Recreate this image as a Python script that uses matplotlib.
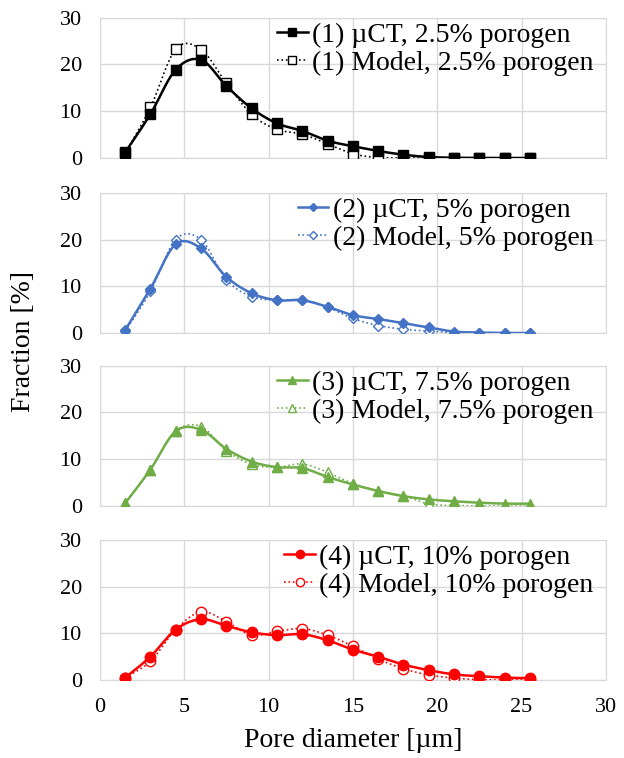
import numpy as np
import matplotlib
matplotlib.use("Agg")
import matplotlib.pyplot as plt

plt.rcParams['font.family'] = ['Liberation Serif', 'DejaVu Serif']

# pore diameter bins [um]
diameter = [1.5, 3, 4.5, 6, 7.5, 9, 10.5, 12, 13.5, 15, 16.5, 18, 19.5, 21, 22.5, 24, 25.5]

# fraction [%] per bin, measured (uCT) and simulated (model)
ct_25 = [1.2, 9.4, 18.9, 21.0, 15.4, 10.6, 7.4, 5.8, 3.7, 2.5, 1.5, 0.7, 0.2, 0.05, 0, 0, 0]
model_25 = [1.0, 10.8, 23.3, 23.2, 16.0, 9.3, 6.1, 5.1, 3.0, 0.9, 0.1, 0, 0, 0, 0, 0, 0]
ct_5 = [0.6, 9.5, 19.0, 18.1, 12.0, 8.5, 7.0, 7.0, 5.6, 3.8, 3.0, 2.1, 1.2, 0.3, 0.1, 0, 0]
model_5 = [0.4, 8.9, 20.0, 20.0, 11.4, 7.8, 7.0, 7.1, 5.5, 3.1, 1.6, 0.8, 0.4, 0.1, 0, 0, 0]
ct_75 = [0.6, 7.8, 16.0, 16.3, 12.2, 9.5, 8.3, 8.1, 6.2, 4.6, 3.2, 2.1, 1.4, 1.0, 0.7, 0.5, 0.5]
model_75 = [0.6, 7.8, 16.0, 17.0, 11.8, 8.9, 8.3, 9.0, 7.2, 4.8, 3.2, 2.2, 0.4, 0.1, 0, 0, 0]
ct_10 = [0.5, 5.0, 10.8, 13.0, 11.6, 10.2, 9.6, 9.8, 8.5, 6.5, 5.0, 3.3, 2.1, 1.2, 0.8, 0.5, 0.4]
model_10 = [0.5, 4.0, 10.8, 14.6, 12.5, 9.6, 10.4, 11.0, 9.6, 7.2, 4.5, 2.4, 1.1, 0.4, 0.1, 0, 0.1]

labels = [("(1) µCT, 2.5% porogen", "(1) Model, 2.5% porogen"),
          ("(2) µCT, 5% porogen", "(2) Model, 5% porogen"),
          ("(3) µCT, 7.5% porogen", "(3) Model, 7.5% porogen"),
          ("(4) µCT, 10% porogen", "(4) Model, 10% porogen")]
colors = ['#000000', '#4472C4', '#70AD47', '#FF0000']
markers = ['s', 'D', '^', 'o']
msizes = [7, 5.5, 7, 7.5]
series = [(ct_25, model_25), (ct_5, model_5), (ct_75, model_75), (ct_10, model_10)]


def smooth(x, y, n=20):
    # spreadsheet-style smoothed line: cubic Bezier through every point
    x = np.asarray(x, float)
    y = np.asarray(y, float)
    px = np.concatenate([[x[0]], x, [x[-1]]])
    py = np.concatenate([[y[0]], y, [y[-1]]])
    xs, ys = [], []
    t = np.linspace(0, 1, n)
    for i in range(1, len(px) - 2):
        p0 = np.array([px[i], py[i]])
        p3 = np.array([px[i + 1], py[i + 1]])
        p1 = p0 + (np.array([px[i + 1], py[i + 1]]) - np.array([px[i - 1], py[i - 1]])) / 6
        p2 = p3 - (np.array([px[i + 2], py[i + 2]]) - np.array([px[i], py[i]])) / 6
        b = ((1 - t) ** 3)[:, None] * p0 + (3 * (1 - t) ** 2 * t)[:, None] * p1 \
            + (3 * (1 - t) * t ** 2)[:, None] * p2 + (t ** 3)[:, None] * p3
        xs.extend(b[:, 0])
        ys.extend(b[:, 1])
    return xs, ys


fig = plt.figure(figsize=(6.24, 7.58), dpi=100)
bottoms = [0.7916, 0.5607, 0.3325, 0.1029]

for k in range(4):
    ax = fig.add_axes([0.160, bottoms[k], 0.811, 0.185])
    c = colors[k]
    ct, model = series[k]

    sx, sy = smooth(diameter, model)
    ax.plot(sx, sy, color=c, lw=1.2, ls=':', zorder=3)
    ax.plot(diameter, model, ls='none', marker=markers[k], ms=msizes[k],
            mfc='white', mec=c, mew=1.0, zorder=4)
    sx, sy = smooth(diameter, ct)
    ax.plot(sx, sy, color=c, lw=1.8, zorder=5)
    ax.plot(diameter, ct, ls='none', marker=markers[k], ms=msizes[k],
            mfc=c, mec=c, zorder=6)

    # proxy handles for the legend
    h1, = ax.plot([], [], color=c, lw=1.8, marker=markers[k], ms=msizes[k] * 0.8, mfc=c, mec=c)
    h2, = ax.plot([], [], color=c, lw=1.2, ls=':', marker=markers[k], ms=msizes[k] * 0.8,
                  mfc='white', mec=c)
    ax.legend([h1, h2], labels[k], loc='upper right', bbox_to_anchor=(0.975, 0.966),
              frameon=False, fontsize=20, handlelength=1.1, handletextpad=0.15,
              labelspacing=0.08, borderaxespad=0.0, borderpad=0.0)

    ax.set_xlim(0, 30)
    ax.set_ylim(0, 30)
    ax.set_xticks(range(0, 31, 5))
    ax.set_yticks(range(0, 31, 10))
    ax.grid(True, color='#D9D9D9', lw=1.0)
    ax.set_axisbelow(True)
    for sp in ax.spines.values():
        sp.set_color('#D9D9D9')
    ax.tick_params(length=0, labelsize=16, pad=13)
    if k < 3:
        ax.tick_params(labelbottom=False)
    else:
        ax.set_xlabel("Pore diameter [µm]", fontsize=20, labelpad=8)

fig.text(0.037, 0.55, "Fraction [%]", rotation=90, fontsize=20, va='center', ha='center')

fig.savefig("out.png", dpi=100)
